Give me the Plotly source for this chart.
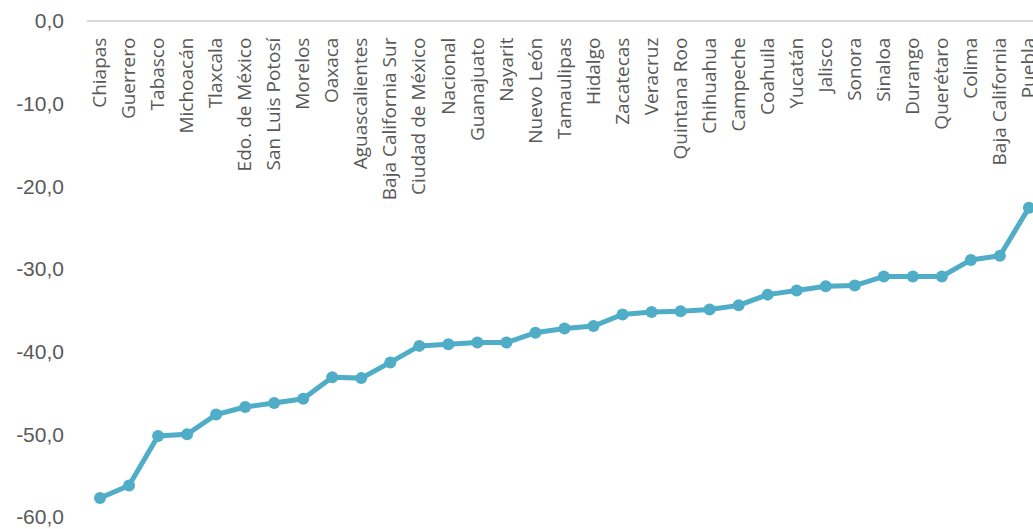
import plotly.graph_objects as go

estados = ["Chiapas", "Guerrero", "Tabasco", "Michoacán", "Tlaxcala", "Edo. de México",
           "San Luis Potosí", "Morelos", "Oaxaca", "Aguascalientes", "Baja California Sur",
           "Ciudad de México", "Nacional", "Guanajuato", "Nayarit", "Nuevo León", "Tamaulipas",
           "Hidalgo", "Zacatecas", "Veracruz", "Quintana Roo", "Chihuahua", "Campeche",
           "Coahuila", "Yucatán", "Jalisco", "Sonora", "Sinaloa", "Durango", "Querétaro",
           "Colima", "Baja California", "Puebla"]
valores = [-57.7, -56.2, -50.2, -50.0, -47.6, -46.7, -46.2, -45.7, -43.1, -43.2, -41.3,
           -39.3, -39.1, -38.9, -38.9, -37.7, -37.2, -36.9, -35.5, -35.2, -35.1, -34.9,
           -34.4, -33.1, -32.6, -32.1, -32.0, -30.9, -30.9, -30.9, -28.9, -28.4, -22.6]
y_ticks = [0, -10, -20, -30, -40, -50, -60]
y_labels = ["0,0", "-10,0", "-20,0", "-30,0", "-40,0", "-50,0", "-60,0"]

idx = list(range(len(estados)))

fig = go.Figure()
fig.add_trace(go.Scatter(
    x=idx, y=valores, mode="lines+markers",
    line=dict(color="#4FADC7", width=5),
    marker=dict(color="#4FADC7", size=12),
    showlegend=False,
))

fig.update_layout(
    width=1033, height=529,
    margin=dict(l=87, r=0, t=21, b=12),
    paper_bgcolor="white", plot_bgcolor="white",
    xaxis=dict(
        range=[-0.448, 32.14],
        tickmode="array", tickvals=idx, ticktext=estados,
        tickangle=-90,
        anchor="free", position=1, side="bottom",
        showline=True, linecolor="#D9D9D9", linewidth=2,
        showgrid=False, zeroline=False,
        ticks="", ticklabelstandoff=8,
        ticklabeloverflow="allow",
        tickfont=dict(family="Open Sans", size=19, color="#595959"),
        automargin=False,
    ),
    yaxis=dict(
        range=[-60, 0],
        tickmode="array", tickvals=y_ticks, ticktext=y_labels,
        showline=False, showgrid=False, zeroline=False,
        ticks="", ticklabelstandoff=22,
        tickfont=dict(family="Liberation Sans", size=21, color="#595959"),
        automargin=False,
    ),
)

fig.write_html("out.html")
